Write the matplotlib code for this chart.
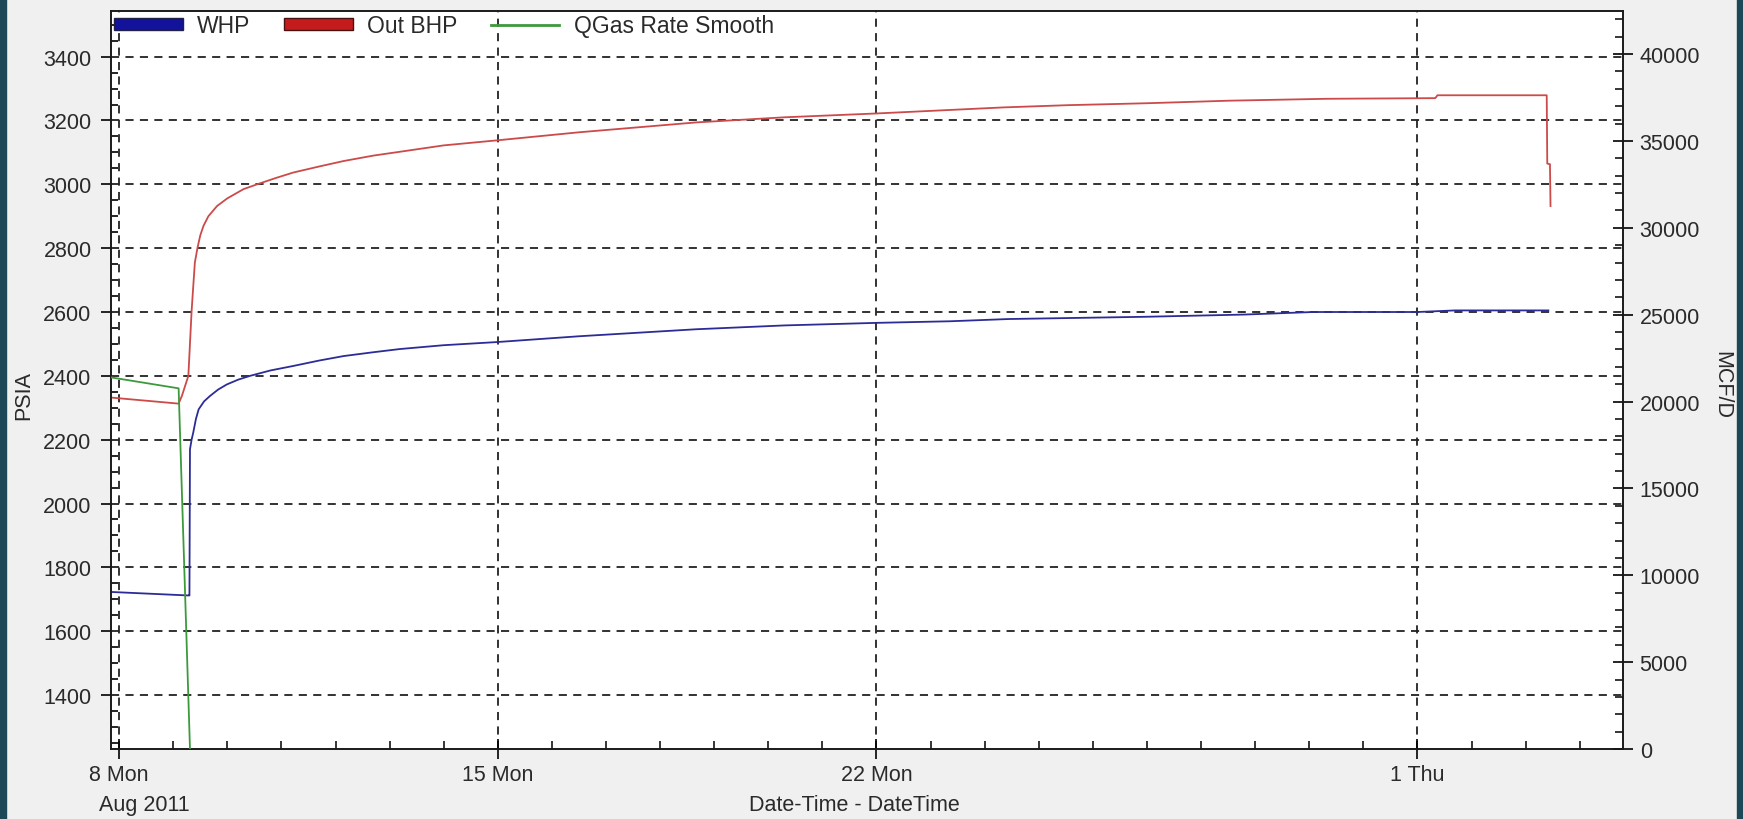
import matplotlib
matplotlib.use('Agg')
import numpy as np
import pandas as pd
import matplotlib.pyplot as plt
import matplotlib.dates as mdates
import matplotlib.transforms as mtransforms
from matplotlib.lines import Line2D
from matplotlib.patches import Patch, Rectangle
from matplotlib.ticker import MultipleLocator

plt.rcParams['font.family'] = ['Liberation Sans', 'DejaVu Sans']

# Time is in days after 8 Aug 2011 00:00
base = mdates.date2num(pd.Timestamp('2011-08-08').to_pydatetime())

whp_day = [-0.15, 1.28, 1.30, 1.31, 1.34, 1.37, 1.42, 1.47, 1.57, 1.68, 1.83, 1.99, 2.2,
           2.42, 2.8, 3.22, 3.7, 4.15, 4.7, 5.19, 6.0, 7.0, 8.5, 10.67, 12.3, 14.0, 15.36,
           16.44, 18.96, 20.8, 22.07, 24.0, 24.7, 26.42]
whp_psia = [1723, 1712, 1712, 2170, 2200, 2222, 2265, 2295, 2320, 2337, 2357, 2373, 2388,
            2400, 2417, 2431, 2448, 2462, 2474, 2484, 2496, 2506, 2524, 2546, 2558, 2566, 2571,
            2578, 2585, 2592, 2600, 2600, 2605, 2605]

bhp_day = [-0.15, 1.10, 1.16, 1.28, 1.34, 1.40, 1.45, 1.50, 1.56, 1.65, 1.81, 2.0, 2.30,
           2.55, 2.9, 3.22, 3.7, 4.15, 4.7, 5.19, 6.0, 7.0, 8.5, 10.67, 12.3, 14.0, 15.36,
           16.35, 17.54, 18.99, 20.51, 22.33, 24.33, 24.37, 26.39, 26.40, 26.45, 26.46]
bhp_psia = [2332, 2313, 2337, 2400, 2603, 2755, 2802, 2840, 2870, 2900, 2932, 2956, 2985,
            3000, 3020, 3037, 3056, 3073, 3090, 3102, 3122, 3138, 3163, 3194, 3210, 3222, 3233,
            3241, 3248, 3254, 3262, 3268, 3270, 3279, 3279, 3065, 3063, 2932]

qgas_day = [-0.15, 1.10, 1.31]
qgas_mcfd = [21390, 20760, 0]

tick_dates = ['2011-08-08', '2011-08-15', '2011-08-22', '2011-09-01']
tick_labels = ['8 Mon', '15 Mon', '22 Mon', '1 Thu']

W, H = 1743, 820
fig = plt.figure(figsize=(W / 100, H / 100), dpi=100, facecolor='#f0f0f0')
ax = fig.add_axes([111 / W, 1 - 750 / H, (1623 - 111) / W, (750 - 12) / H])
ax2 = ax.twinx()

# dark window edges
fig.patches.append(Rectangle((0, 0), 6 / W, 1, transform=fig.transFigure, color='#1c4858', zorder=-5))
fig.patches.append(Rectangle((1 - 6 / W, 0), 6 / W, 1, transform=fig.transFigure, color='#1c4858', zorder=-5))

ax.plot(base + np.array(whp_day), whp_psia, color='#2c2c96', lw=1.3, zorder=3)
ax.plot(base + np.array(bhp_day), bhp_psia, color='#cc4a4a', lw=1.3, zorder=3)
ax2.plot(base + np.array(qgas_day), qgas_mcfd, color='#3c9a3c', lw=1.3, zorder=3)

ax.set_xlim(base - 0.15, base + 27.8)
ax.set_ylim(1231, 3543)
ax2.set_ylim(0, 42480)

tick_pos = [mdates.date2num(pd.Timestamp(d).to_pydatetime()) for d in tick_dates]
ax.set_xticks(tick_pos, tick_labels)
ax.xaxis.set_minor_locator(MultipleLocator(1))
ax.yaxis.set_major_locator(MultipleLocator(200))
ax.yaxis.set_minor_locator(MultipleLocator(50))
ax2.yaxis.set_major_locator(MultipleLocator(5000))
ax2.yaxis.set_minor_locator(MultipleLocator(1000))

txt = '#2a2a2a'
fs = 15.5
ax.tick_params(axis='y', which='major', direction='out', length=7, width=1.2, pad=7,
               labelsize=fs, labelcolor=txt)
ax.tick_params(axis='y', which='minor', direction='in', length=5, width=1.2)
ax.tick_params(axis='x', which='major', direction='inout', length=14, width=1.2, pad=4,
               labelsize=fs, labelcolor=txt)
ax.tick_params(axis='x', which='minor', direction='in', length=5.5, width=1.1)
ax2.tick_params(axis='y', which='major', direction='inout', length=14, width=1.2, pad=5,
                labelsize=fs, labelcolor=txt)
ax2.tick_params(axis='y', which='minor', direction='in', length=6, width=1.1)

for a in (ax, ax2):
    for s in a.spines.values():
        s.set_linewidth(1.2)
        s.set_color('#1a1a1a')

ax.grid(True, which='major', color='#222222', linestyle=(0, (4.5, 3.5)), linewidth=1.3, zorder=1)
ax.set_axisbelow(True)

trans = mtransforms.blended_transform_factory(ax.transData, ax.transAxes)
ax.text(base + 0.47, -0.075, 'Aug 2011', transform=trans, ha='center', va='center',
        fontsize=fs, color=txt)

ax.set_xlabel('Date-Time - DateTime', fontsize=fs, color=txt, va='center')
ax.xaxis.set_label_coords(0.4914, -0.075)
ax.set_ylabel('PSIA', fontsize=fs, color=txt, va='center')
ax.yaxis.set_label_coords(-0.0575, 0.48)
ax2.set_ylabel('MCF/D', fontsize=fs, color=txt, rotation=270, va='center')
ax2.yaxis.set_label_coords(1.0655, 0.495)

handles = [Patch(facecolor='#12129a', edgecolor='#202048', lw=1),
           Patch(facecolor='#c41c1c', edgecolor='#481010', lw=1),
           Line2D([], [], color='#3c9a3c', lw=2)]
ax2.legend(handles, ['WHP', 'Out BHP', 'QGas Rate Smooth'], loc='upper left',
           bbox_to_anchor=(0, 1), ncol=3, frameon=False, fontsize=16.5,
           handlelength=3.0, handleheight=0.42, handletextpad=0.62, columnspacing=1.45,
           borderaxespad=0, borderpad=0.15, labelcolor=txt)

fig.savefig('out.png', dpi=100, facecolor=fig.get_facecolor())
